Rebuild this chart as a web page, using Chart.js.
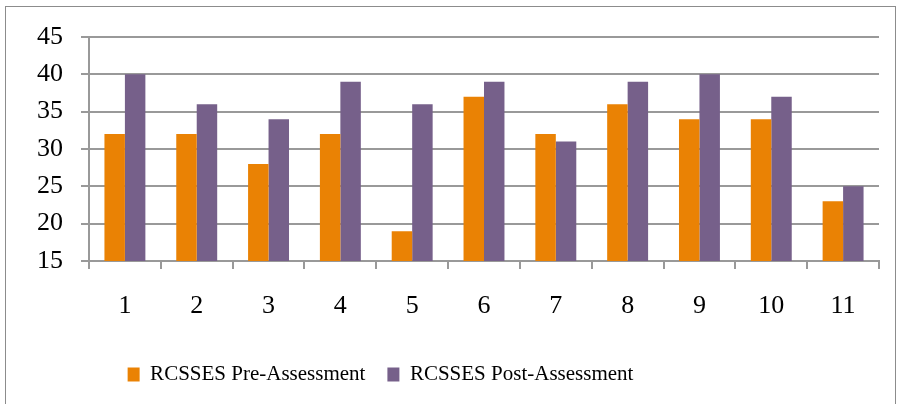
<!DOCTYPE html>
<html>
<head>
<meta charset="utf-8">
<script src="https://cdn.jsdelivr.net/npm/chart.js@4.4.1/dist/chart.umd.min.js"></script>
<style>
  html, body { margin: 0; padding: 0; background: #fff; }
  #frame { position: absolute; left: 5px; top: 6px; width: 891px; height: 404px; border: 1px solid #8c8c8c; box-sizing: border-box; }
  #wrap { position: absolute; left: 0; top: 0; width: 897px; height: 404px; }
</style>
</head>
<body>
<div id="frame"></div>
<div id="wrap"><canvas id="c"></canvas></div>
<script>
// données
const categories = ['1', '2', '3', '4', '5', '6', '7', '8', '9', '10', '11'];
const preValues  = [32, 32, 28, 32, 19, 37, 32, 36, 34, 34, 23];
const postValues = [40, 36, 34, 39, 36, 39, 31, 39, 40, 37, 25];

const FONT = '"Liberation Serif", "Times New Roman", serif';

// place la légende comme dans l'original (décalée vers la gauche)
const legendPlace = {
  id: 'legendPlace',
  afterLayout(chart) {
    const lg = chart.legend;
    const dx = -59;
    lg.left += dx;
    lg.right += dx;
    const h = lg.bottom - lg.top;
    lg.top = 342;
    lg.bottom = lg.top + h;
  },
};

new Chart(document.getElementById('c'), {
  type: 'bar',
  data: {
    labels: categories,
    datasets: [
      {
        label: 'RCSSES Pre-Assessment',
        data: preValues,
        backgroundColor: '#EA8204',
        categoryPercentage: 0.57,
        barPercentage: 1,
      },
      {
        label: 'RCSSES Post-Assessment',
        data: postValues,
        backgroundColor: '#76608A',
        categoryPercentage: 0.57,
        barPercentage: 1,
      },
    ],
  },
  plugins: [legendPlace],
  options: {
    responsive: true,
    maintainAspectRatio: false,
    animation: false,
    layout: { padding: { left: 0, right: 18, top: 37, bottom: 0 } },
    plugins: {
      tooltip: { enabled: false },
      legend: {
        position: 'bottom',
        labels: {
          font: { family: FONT, size: 21 },
          color: '#000',
          boxWidth: 12,
          boxHeight: 14,
          padding: 22,
        },
      },
    },
    scales: {
      x: {
        grid: { display: true, drawOnChartArea: false, drawTicks: true, tickLength: 8, color: '#999', lineWidth: 2, offset: true },
        border: { color: '#999', width: 2 },
        ticks: { font: { family: FONT, size: 26 }, color: '#000', padding: 22 },
        afterFit: (s) => {
          const lh = s.chart.legend ? s.chart.legend.height : 0;
          s.height = s.chart.height - 261 - lh;
        },
      },
      y: {
        min: 15,
        max: 45,
        grid: { color: '#999', lineWidth: 2, tickLength: 8 },
        border: { color: '#999', width: 2 },
        ticks: { stepSize: 5, font: { family: FONT, size: 26 }, color: '#000', padding: 18 },
        afterFit: (s) => { s.width = 89; },
      },
    },
  },
});
</script>
</body>
</html>
